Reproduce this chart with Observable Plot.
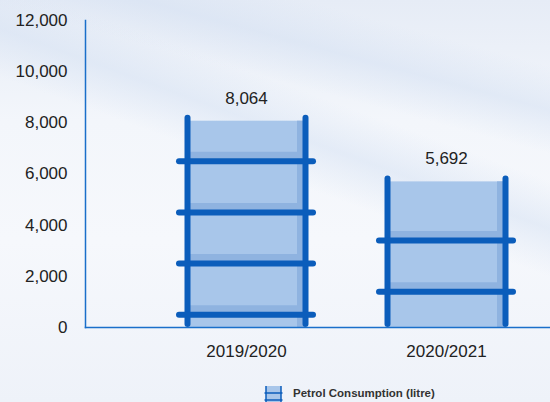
<!DOCTYPE html>
<html>
<head>
<meta charset="utf-8">
<script src="https://cdn.jsdelivr.net/npm/d3@7"></script>
<script src="https://cdn.jsdelivr.net/npm/@observablehq/plot@0.6"></script>
<style>
  html, body { margin: 0; padding: 0; }
  body {
    width: 550px; height: 402px; overflow: hidden;
    font-family: "Liberation Sans", Arial, sans-serif;
    background:
      linear-gradient(200deg, rgba(220,230,244,0) 30%, rgba(214,226,243,0.55) 38%, rgba(255,255,255,0) 46%),
      linear-gradient(195deg, rgba(220,230,244,0) 12%, rgba(210,223,242,0.5) 20%, rgba(255,255,255,0) 28%),
      linear-gradient(180deg, #e6ecf6 0%, #f3f6fb 30%, #f6f8fc 60%, #eef2f9 100%);
  }
  #chart { position: absolute; left: 0; top: 0; }
  #legend {
    position: absolute; left: 264px; top: 384px;
    display: flex; align-items: center; gap: 10px;
    font-size: 11.5px; font-weight: bold; color: #333;
  }
  #legend svg { display: block; }
</style>
</head>
<body>
<div id="chart"></div>
<div id="legend">
  <svg width="19" height="18" viewBox="0 0 19 18">
    <rect x="2" y="2" width="15" height="16" fill="#a8c6ea"></rect>
    <line x1="2" y1="2" x2="2" y2="18" stroke="#0b5dbb" stroke-width="1.5"></line>
    <line x1="17" y1="2" x2="17" y2="18" stroke="#0b5dbb" stroke-width="1.5"></line>
    <line x1="0.5" y1="9" x2="18.5" y2="9" stroke="#0b5dbb" stroke-width="1.5"></line>
    <line x1="0.5" y1="16" x2="18.5" y2="16" stroke="#0b5dbb" stroke-width="1.5"></line>
  </svg>
  <span>Petrol Consumption (litre)</span>
</div>
<script>
const years = ["2019/2020", "2020/2021"];
const consumption = [8064, 5692];
const rungYears = ["2019/2020", "2019/2020", "2019/2020", "2019/2020", "2020/2021", "2020/2021"];
const rungValues = [500, 2500, 4500, 6500, 1400, 3400];
const yTicks = [0, 2000, 4000, 6000, 8000, 10000, 12000];

const bars = years.map((y, i) => ({year: y, value: consumption[i]}));
const rungs = rungYears.map((y, i) => ({year: y, value: rungValues[i]}));

const rail = "#0b5dbb";
const fillLight = "#a8c6ea";
const fillDark = "#8fb3e0";
const fmt = d3.format(",");

const chart = Plot.plot({
  width: 550,
  height: 370,
  marginTop: 20,
  marginBottom: 43,
  marginLeft: 85,
  marginRight: 0,
  style: {background: "transparent", fontFamily: "'Liberation Sans', Arial, sans-serif", fontSize: "17px", color: "#222"},
  x: {domain: years, padding: 0, insetLeft: 61, insetRight: 4, label: null, tickSize: 0, tickPadding: 17},
  y: {domain: [0, 12000], ticks: yTicks, tickFormat: fmt, label: null, tickSize: 0, tickPadding: 18},
  marks: [
    Plot.barY(bars, {x: "year", y: "value", fill: fillLight, insetLeft: 41, insetRight: 41}),
    Plot.barY(bars, {x: "year", y: "value", fill: fillDark, insetLeft: 151, insetRight: 41}),
    Plot.tickY(rungs, {x: "year", y: "value", stroke: fillDark, strokeWidth: 7, dy: -6, insetLeft: 41, insetRight: 41}),
    Plot.ruleX(bars, {x: "year", y1: 0, y2: "value", dx: -59, dy: -3, stroke: rail, strokeWidth: 6, strokeLinecap: "round"}),
    Plot.ruleX(bars, {x: "year", y1: 0, y2: "value", dx: 59, dy: -3, stroke: rail, strokeWidth: 6, strokeLinecap: "round"}),
    Plot.tickY(rungs, {x: "year", y: "value", stroke: rail, strokeWidth: 6, strokeLinecap: "round", insetLeft: 33, insetRight: 33}),
    Plot.frame({anchor: "left", stroke: "#1a6fca", strokeWidth: 1.5}),
    Plot.frame({anchor: "bottom", stroke: "#1a6fca", strokeWidth: 1.5}),
    Plot.text(bars, {x: "year", y: "value", text: d => fmt(d.value), dy: -23, fontSize: 17, fill: "#222"})
  ]
});
document.getElementById("chart").appendChild(chart);
</script>
</body>
</html>
